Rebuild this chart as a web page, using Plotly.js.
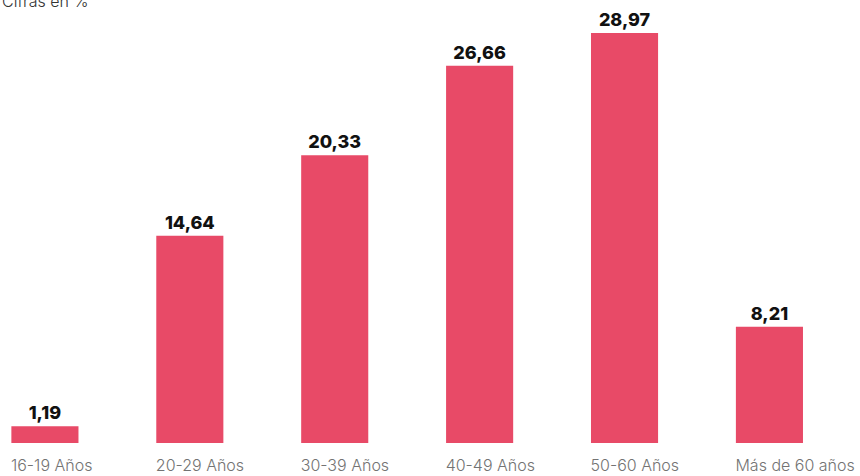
<!DOCTYPE html>
<html>
<head>
<meta charset="utf-8">
<script src="https://cdn.plot.ly/plotly-3.0.1.min.js"></script>
<style>html,body{margin:0;padding:0;background:#fff}#chart{width:860px;height:476px}</style>
</head>
<body>
<div id="chart"></div>
<script>
const categories = ["16-19 Años", "20-29 Años", "30-39 Años", "40-49 Años", "50-60 Años", "Más de 60 años"];
const values = [1.19, 14.64, 20.33, 26.66, 28.97, 8.21];
const unitLabel = "Cifras en %";

const trace = {
  type: "bar",
  x: categories,
  y: values,
  width: 0.463,
  marker: {color: "#E84A67"},
  texttemplate: "%{y:.2f}",
  textposition: "outside",
  cliponaxis: false,
  textfont: {family: "Inter, sans-serif", size: 18, color: "#111", weight: 800},
  hoverinfo: "none"
};

const layout = {
  width: 860, height: 476,
  margin: {l: 0, r: 0, t: 0, b: 33},
  paper_bgcolor: "#fff", plot_bgcolor: "#fff",
  separators: ",.",
  showlegend: false,
  xaxis: {
    type: "category",
    range: [-0.31, 5.625],
    showgrid: false, zeroline: false, showline: false,
    ticks: "",
    ticklabelposition: "outside right",
    ticklabelshift: -34,
    ticklabelstandoff: 11,
    tickfont: {family: "Inter, sans-serif", size: 16, color: "#737373", weight: 300}
  },
  yaxis: {
    range: [0, 31.3],
    visible: false, showgrid: false, zeroline: false
  },
  annotations: [{
    text: unitLabel, xref: "paper", yref: "paper", x: 0, y: 1,
    xanchor: "left", yanchor: "middle", yshift: -1, showarrow: false,
    font: {family: "Inter, sans-serif", size: 16, color: "#333", weight: 300}
  }]
};

Plotly.newPlot("chart", [trace], layout, {staticPlot: true, displayModeBar: false});
</script>
</body>
</html>
